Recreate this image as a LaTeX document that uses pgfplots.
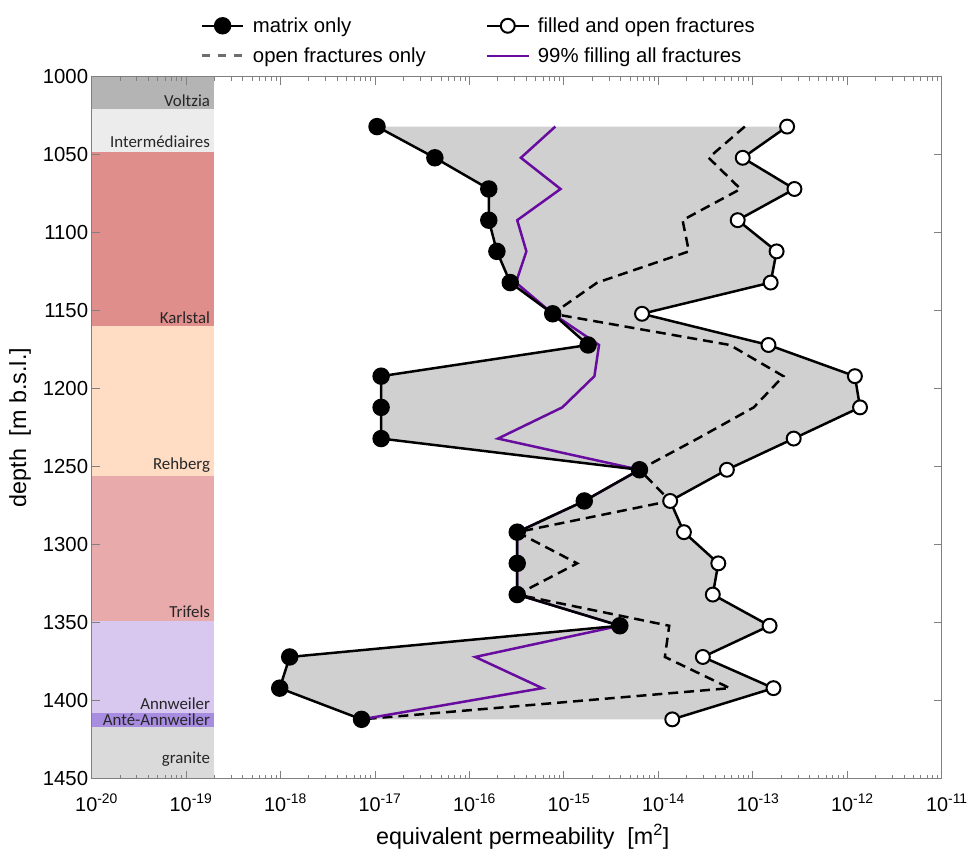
\documentclass[border=0pt]{standalone}
\usepackage{fontspec}
\setmainfont{Liberation Sans}
\newfontfamily\calfont{Carlito}
\usepackage{pgfplots}
\usepackage{pgfplotstable}
\pgfplotsset{compat=1.18}

\definecolor{purp}{RGB}{104,12,160}
\definecolor{cVolt}{RGB}{180,180,180}
\definecolor{cInter}{RGB}{236,236,236}
\definecolor{cKarl}{RGB}{224,142,139}
\definecolor{cRehb}{RGB}{255,220,196}
\definecolor{cTrif}{RGB}{232,170,170}
\definecolor{cAnnw}{RGB}{216,200,240}
\definecolor{cAnte}{RGB}{168,140,224}
\definecolor{cGran}{RGB}{218,218,218}
\definecolor{cFill}{RGB}{208,208,208}
\definecolor{cAxis}{RGB}{128,128,128}
\definecolor{cLegDash}{RGB}{110,110,110}

\pgfplotstableread{
depth matrix   filled   open     pnn
1032  1.05e-17 2.3e-13  8.2e-14  8.1e-16
1052  4.3e-17  7.8e-14  3.4e-14  3.5e-16
1072  1.6e-16  2.75e-13 7.4e-14  9.2e-16
1092  1.6e-16  6.9e-14  1.8e-14  3.2e-16
1112  1.95e-16 1.78e-13 2.1e-14  4.0e-16
1132  2.7e-16  1.54e-13 2.25e-15 3.1e-16
1152  7.6e-16  6.7e-15  7.6e-16  7.6e-16
1172  1.8e-15  1.46e-13 5.7e-14  2.35e-15
1192  1.16e-17 1.2e-12  2.1e-13  2.1e-15
1212  1.16e-17 1.36e-12 1.02e-13 9.6e-16
1232  1.16e-17 2.7e-13  2.6e-14  2.0e-16
1252  6.3e-15  5.3e-14  6.3e-15  6.3e-15
1272  1.64e-15 1.33e-14 1.33e-14 1.64e-15
1292  3.2e-16  1.86e-14 3.2e-16  3.2e-16
1312  3.2e-16  4.3e-14  1.38e-15 3.2e-16
1332  3.2e-16  3.76e-14 3.2e-16  3.2e-16
1352  3.9e-15  1.5e-13  1.3e-14  3.9e-15
1372  1.25e-18 2.95e-14 1.17e-14 1.15e-16
1392  9.8e-19  1.65e-13 5.7e-14  5.9e-16
1412  7.2e-18  1.4e-14  7.2e-18  7.2e-18
}\data

\begin{document}
\begin{tikzpicture}
\begin{axis}[name=ax, scale only axis, width=854bp, height=705bp,
  xmode=log, xmin=1e-20, xmax=1e-11,
  ymin=1000, ymax=1450, y dir=reverse,
  axis on top,
  ytick={1000,1050,1100,1150,1200,1250,1300,1350,1400,1450},
  yticklabels={1000,1050,1100,1150,1200,1250,1300,1350,1400,1450},
  xtick={1e-20,1e-19,1e-18,1e-17,1e-16,1e-15,1e-14,1e-13,1e-12,1e-11},
  xticklabels={10\textsuperscript{-20},10\textsuperscript{-19},10\textsuperscript{-18},10\textsuperscript{-17},10\textsuperscript{-16},10\textsuperscript{-15},10\textsuperscript{-14},10\textsuperscript{-13},10\textsuperscript{-12},10\textsuperscript{-11}},
  minor xtick={2e-20,3e-20,4e-20,5e-20,6e-20,7e-20,8e-20,9e-20,
    2e-19,3e-19,4e-19,5e-19,6e-19,7e-19,8e-19,9e-19,
    2e-18,3e-18,4e-18,5e-18,6e-18,7e-18,8e-18,9e-18,
    2e-17,3e-17,4e-17,5e-17,6e-17,7e-17,8e-17,9e-17,
    2e-16,3e-16,4e-16,5e-16,6e-16,7e-16,8e-16,9e-16,
    2e-15,3e-15,4e-15,5e-15,6e-15,7e-15,8e-15,9e-15,
    2e-14,3e-14,4e-14,5e-14,6e-14,7e-14,8e-14,9e-14,
    2e-13,3e-13,4e-13,5e-13,6e-13,7e-13,8e-13,9e-13,
    2e-12,3e-12,4e-12,5e-12,6e-12,7e-12,8e-12,9e-12},
  tick align=inside,
  major tick length=8bp, minor tick length=4bp,
  tick style={cAxis, line width=1bp},
  axis line style={cAxis, line width=1.2bp},
  xticklabel style={font=\fontsize{20}{24}\selectfont, xshift=5bp, yshift=-12bp},
  yticklabel style={font=\fontsize{20.5}{24}\selectfont},
  xlabel={equivalent permeability~~[m\textsuperscript{2}]},
  ylabel={depth~~[m b.s.l.]},
  label style={font=\fontsize{23.5}{28}\selectfont},
  xlabel style={yshift=-6bp, xshift=6bp},
  ylabel style={yshift=5bp},
  legend columns=2,
  legend style={at={(axis description cs:0.124,1.09)}, anchor=north west,
    draw=none, fill=none, font=\fontsize{20.5}{24}\selectfont,
    row sep=10bp, cells={anchor=west},
    /tikz/every odd column/.append style={column sep=6bp},
    /tikz/every even column/.append style={column sep=58bp}},
  legend image code/.code={\draw[mark repeat=2,mark phase=2,#1] plot coordinates {(0bp,0bp)(21bp,0bp)(42bp,0bp)};},
]
% strata
\addplot[fill=cVolt, draw=none, forget plot] coordinates {(1e-20,1000) (2e-19,1000) (2e-19,1021) (1e-20,1021)} --cycle;
\addplot[fill=cInter, draw=none, forget plot] coordinates {(1e-20,1021) (2e-19,1021) (2e-19,1048) (1e-20,1048)} --cycle;
\addplot[fill=cKarl, draw=none, forget plot] coordinates {(1e-20,1048) (2e-19,1048) (2e-19,1160) (1e-20,1160)} --cycle;
\addplot[fill=cRehb, draw=none, forget plot] coordinates {(1e-20,1160) (2e-19,1160) (2e-19,1256) (1e-20,1256)} --cycle;
\addplot[fill=cTrif, draw=none, forget plot] coordinates {(1e-20,1256) (2e-19,1256) (2e-19,1349) (1e-20,1349)} --cycle;
\addplot[fill=cAnnw, draw=none, forget plot] coordinates {(1e-20,1349) (2e-19,1349) (2e-19,1408) (1e-20,1408)} --cycle;
\addplot[fill=cAnte, draw=none, forget plot] coordinates {(1e-20,1408) (2e-19,1408) (2e-19,1417) (1e-20,1417)} --cycle;
\addplot[fill=cGran, draw=none, forget plot] coordinates {(1e-20,1417) (2e-19,1417) (2e-19,1450) (1e-20,1450)} --cycle;

\begin{scope}[every node/.style={font=\calfont\fontsize{17}{20}\selectfont, text=black!85, anchor=base east, inner sep=0pt}]
\node at (axis cs:1.8e-19,1019.2) {Voltzia};
\node at (axis cs:1.8e-19,1045.3) {Intermédiaires};
\node at (axis cs:1.8e-19,1158.4) {Karlstal};
\node at (axis cs:1.8e-19,1251.6) {Rehberg};
\node at (axis cs:1.8e-19,1346.7) {Trifels};
\node at (axis cs:1.8e-19,1405.5) {Annweiler};
\node at (axis cs:1.8e-19,1415.7) {Anté-Annweiler};
\node at (axis cs:1.8e-19,1440.6) {granite};
\end{scope}

% envelope between matrix only (top to bottom) and filled and open fractures (bottom to top)
\addplot[fill=cFill, draw=none, forget plot] coordinates {
(1.05e-17,1032) (4.3e-17,1052) (1.6e-16,1072) (1.6e-16,1092) (1.95e-16,1112)
(2.7e-16,1132) (7.6e-16,1152) (1.8e-15,1172) (1.16e-17,1192) (1.16e-17,1212)
(1.16e-17,1232) (6.3e-15,1252) (1.64e-15,1272) (3.2e-16,1292) (3.2e-16,1312)
(3.2e-16,1332) (3.9e-15,1352) (1.25e-18,1372) (9.8e-19,1392) (7.2e-18,1412)
(1.4e-14,1412) (1.65e-13,1392) (2.95e-14,1372) (1.5e-13,1352) (3.76e-14,1332)
(4.3e-14,1312) (1.86e-14,1292) (1.33e-14,1272) (5.3e-14,1252) (2.7e-13,1232)
(1.36e-12,1212) (1.2e-12,1192) (1.46e-13,1172) (6.7e-15,1152) (1.54e-13,1132)
(1.78e-13,1112) (6.9e-14,1092) (2.75e-13,1072) (7.8e-14,1052) (2.3e-13,1032)
} --cycle;

\addplot[black, line width=2.5bp, dash pattern=on 10bp off 6bp, forget plot] table[x=open, y=depth] {\data};
\addplot[purp, line width=2.5bp, forget plot] table[x=pnn, y=depth] {\data};
\addplot[black, line width=2.5bp, mark=*, mark size=7.5bp, mark options={solid}, forget plot] table[x=matrix, y=depth] {\data};
\addplot[black, line width=2.5bp, mark=*, mark size=7bp, mark options={solid, fill=white, draw=black, line width=2bp}, forget plot] table[x=filled, y=depth] {\data};

\addlegendimage{black, line width=2.5bp, mark=*, mark size=7.5bp}
\addlegendentry{matrix only}
\addlegendimage{black, line width=2.5bp, mark=*, mark size=7bp, mark options={fill=white, draw=black, line width=2bp}}
\addlegendentry{filled and open fractures}
\addlegendimage{cLegDash, line width=3bp, dash pattern=on 8bp off 8bp}
\addlegendentry{open fractures only}
\addlegendimage{purp, line width=2.5bp}
\addlegendentry{99\% filling all fractures}
\end{axis}
\path (ax.south west) ++(-92bp,-72bp) coordinate (bbsw);
\path (ax.north east) ++(25bp,77bp) coordinate (bbne);
\path (bbsw) rectangle (bbne);
\end{tikzpicture}
\end{document}
